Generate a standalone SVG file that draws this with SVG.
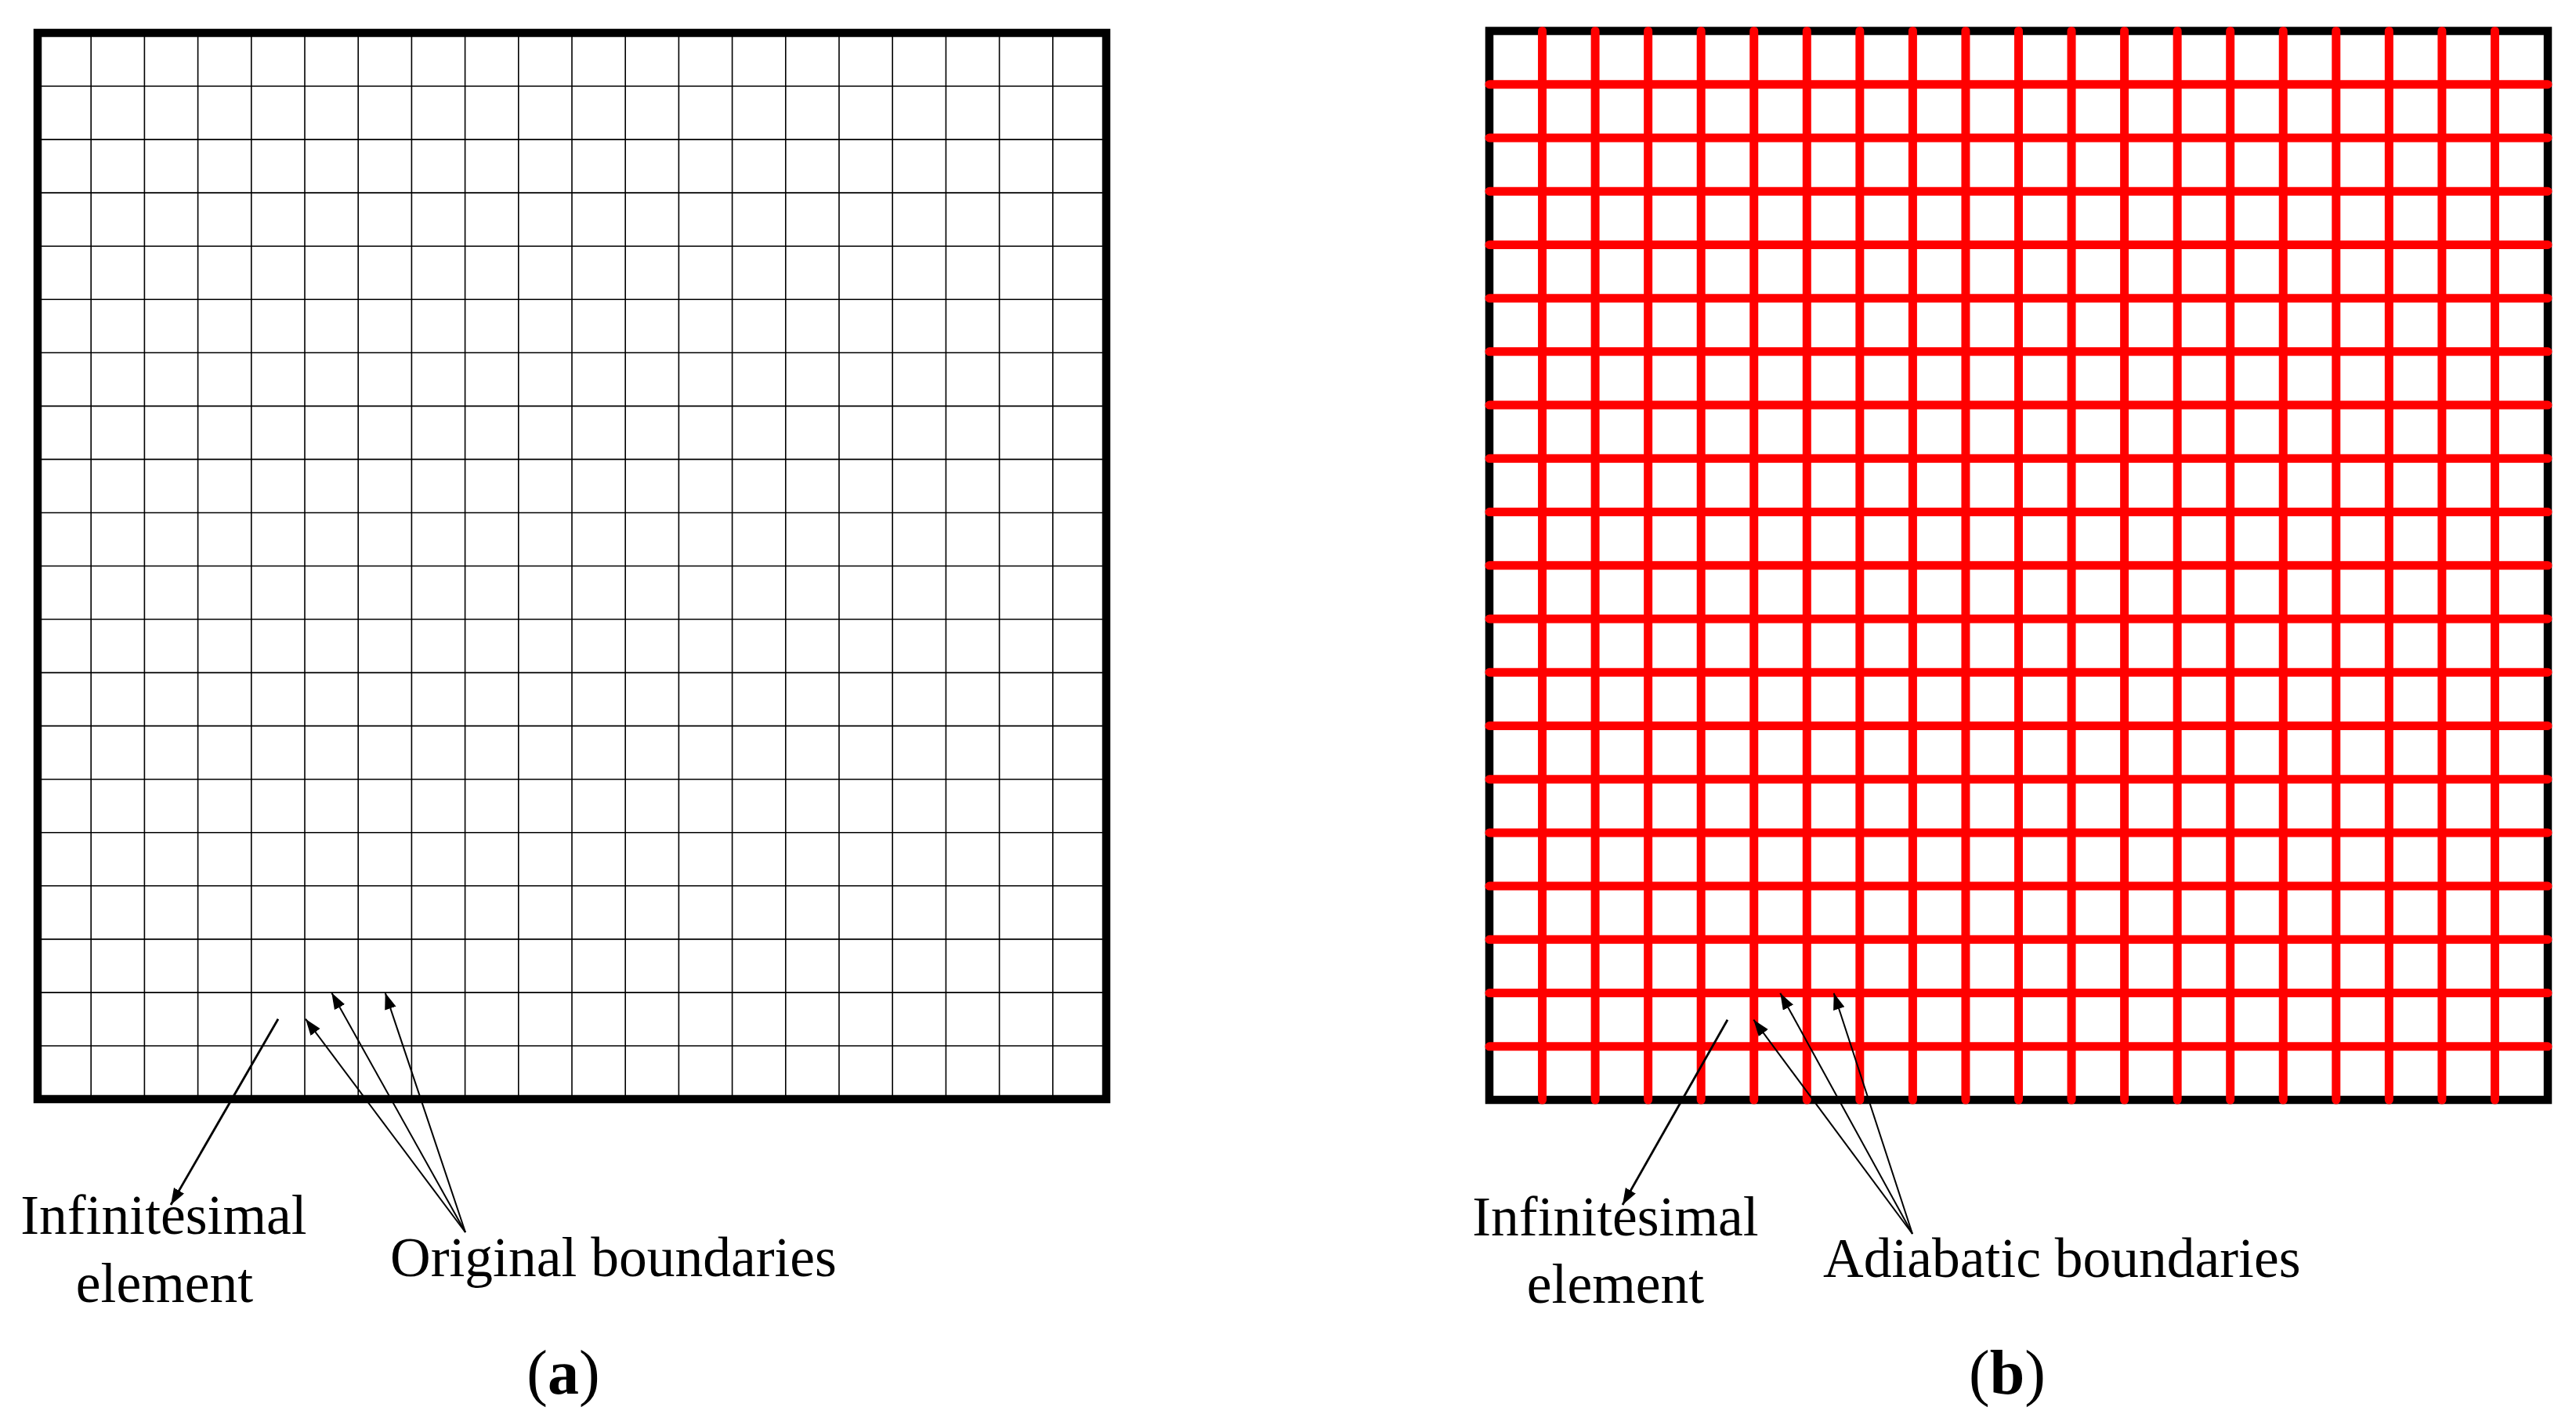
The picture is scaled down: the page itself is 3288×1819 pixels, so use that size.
<svg xmlns="http://www.w3.org/2000/svg" width="3288" height="1819" viewBox="0 0 3288 1819">
<defs>
<style>
.grid{fill:none;stroke:#000;stroke-width:1.6}
.red{fill:none;stroke:#ff0000;stroke-width:11;stroke-linecap:round}
.border{fill:none;stroke:#000;stroke-width:10.5}
.lbl{font-family:"Liberation Serif","Times New Roman",serif;font-size:71.5px;fill:#000}
.cap{font-family:"Liberation Serif","Times New Roman",serif;font-size:80px;fill:#000}
.conn{fill:none;stroke:#000;stroke-width:2}
.conn2{fill:none;stroke:#000;stroke-width:2.8}
</style>
<marker id="ah" markerUnits="userSpaceOnUse" markerWidth="24" markerHeight="16" refX="21" refY="7.5" orient="auto">
<path d="M0,0 L21,7.5 L0,15 z" fill="#000"/>
</marker>
</defs>
<rect width="3288" height="1819" fill="#fff"/>
<g id="panel-a">
<path class="grid" d="M116.2,42V1403M184.4,42V1403M252.6,42V1403M320.8,42V1403M389,42V1403M457.2,42V1403M525.4,42V1403M593.6,42V1403M661.8,42V1403M730,42V1403M798.2,42V1403M866.4,42V1403M934.6,42V1403M1002.8,42V1403M1071,42V1403M1139.2,42V1403M1207.4,42V1403M1275.6,42V1403M1343.8,42V1403
M48,110.05H1412M48,178.1H1412M48,246.15H1412M48,314.2H1412M48,382.25H1412M48,450.3H1412M48,518.35H1412M48,586.4H1412M48,654.45H1412M48,722.5H1412M48,790.55H1412M48,858.6H1412M48,926.65H1412M48,994.7H1412M48,1062.75H1412M48,1130.8H1412M48,1198.85H1412M48,1266.9H1412M48,1334.95H1412"/>
<rect class="border" x="48" y="42" width="1364" height="1361"/>
</g>
<g id="panel-b">
<rect class="border" x="1901" y="39.5" width="1351" height="1364.5"/>
<path class="red" d="M1968.55,39.5V1404M2036.1,39.5V1404M2103.65,39.5V1404M2171.2,39.5V1404M2238.75,39.5V1404M2306.3,39.5V1404M2373.85,39.5V1404M2441.4,39.5V1404M2508.95,39.5V1404M2576.5,39.5V1404M2644.05,39.5V1404M2711.6,39.5V1404M2779.15,39.5V1404M2846.7,39.5V1404M2914.25,39.5V1404M2981.8,39.5V1404M3049.35,39.5V1404M3116.9,39.5V1404M3184.45,39.5V1404
M1901,107.725H3252M1901,175.95H3252M1901,244.175H3252M1901,312.4H3252M1901,380.625H3252M1901,448.85H3252M1901,517.075H3252M1901,585.3H3252M1901,653.525H3252M1901,721.75H3252M1901,789.975H3252M1901,858.2H3252M1901,926.425H3252M1901,994.65H3252M1901,1062.875H3252M1901,1131.1H3252M1901,1199.325H3252M1901,1267.55H3252M1901,1335.775H3252"/>
</g>
<g id="connectors">
<line class="conn2" x1="355" y1="1300.7" x2="218" y2="1538" marker-end="url(#ah)"/>
<line class="conn" x1="594" y1="1573" x2="390" y2="1300.7" marker-end="url(#ah)"/>
<line class="conn" x1="594" y1="1573" x2="423.3" y2="1267.3" marker-end="url(#ah)"/>
<line class="conn" x1="594" y1="1573" x2="491.7" y2="1267.3" marker-end="url(#ah)"/>
<line class="conn2" x1="2205" y1="1301.7" x2="2071" y2="1538" marker-end="url(#ah)"/>
<line class="conn" x1="2441" y1="1575" x2="2238.3" y2="1301.7" marker-end="url(#ah)"/>
<line class="conn" x1="2441" y1="1575" x2="2272.3" y2="1267.7" marker-end="url(#ah)"/>
<line class="conn" x1="2441" y1="1575" x2="2340.7" y2="1267.7" marker-end="url(#ah)"/>
</g>
<g id="label-infinitesimal-a">
<text class="lbl" x="209" y="1575" text-anchor="middle">Infinitesimal</text>
<text class="lbl" x="210" y="1662" text-anchor="middle">element</text>
</g>
<g id="label-original">
<text class="lbl" x="498" y="1629">Original boundaries</text>
</g>
<g id="caption-a">
<text class="cap" x="719" y="1779" text-anchor="middle">(<tspan font-weight="bold">a</tspan>)</text>
</g>
<g id="label-infinitesimal-b">
<text class="lbl" x="2062" y="1577" text-anchor="middle">Infinitesimal</text>
<text class="lbl" x="2062" y="1663" text-anchor="middle">element</text>
</g>
<g id="label-adiabatic">
<text class="lbl" x="2327" y="1630">Adiabatic boundaries</text>
</g>
<g id="caption-b">
<text class="cap" x="2562" y="1779" text-anchor="middle">(<tspan font-weight="bold">b</tspan>)</text>
</g>
</svg>
